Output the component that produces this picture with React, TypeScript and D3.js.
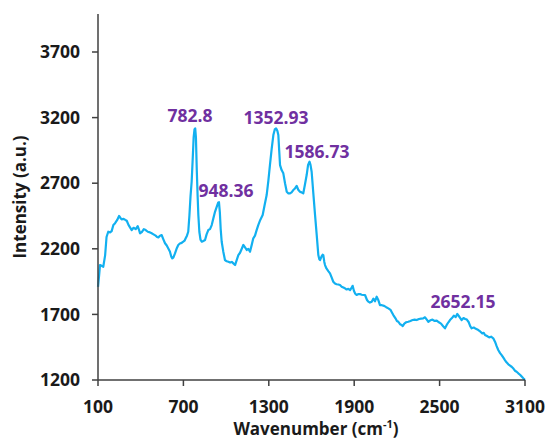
import React from "react";
import * as d3 from "d3";

const wavenumbers: number[] = [
  100, 108, 114, 125, 137, 150, 160, 172, 185, 196, 208, 220, 235, 248, 258, 266, 280, 292, 302, 315,
  327, 337, 350, 365, 379, 388, 395, 410, 422, 435, 450, 465, 477, 490, 505, 515, 524, 536, 547, 560,
  571, 583, 594, 605, 615, 622, 630, 641, 652, 664, 675, 688, 699, 708, 716, 725, 734, 742, 750, 758,
  766, 772, 778, 783, 788, 794, 800, 805, 812, 820, 829, 840, 852, 863, 875, 887, 899, 910, 922, 934,
  945, 950, 956, 962, 969, 980, 992, 1004, 1016, 1028, 1040, 1051, 1063, 1075, 1086, 1098, 1110, 1121, 1133, 1145,
  1156, 1168, 1180, 1191, 1203, 1214, 1226, 1240, 1257, 1270, 1285, 1297, 1308, 1320, 1332, 1342, 1351, 1360, 1367, 1373,
  1379, 1390, 1402, 1414, 1426, 1438, 1449, 1460, 1472, 1484, 1496, 1507, 1519, 1530, 1542, 1554, 1566, 1576, 1586, 1593,
  1601, 1613, 1625, 1637, 1648, 1655, 1660, 1670, 1678, 1683, 1690, 1695, 1705, 1718, 1730, 1742, 1753, 1765, 1776, 1788,
  1800, 1812, 1824, 1835, 1847, 1859, 1871, 1880, 1889, 1898, 1906, 1917, 1930, 1941, 1952, 1964, 1976, 1990, 1999, 2010,
  2023, 2035, 2046, 2058, 2069, 2081, 2095, 2110, 2125, 2140, 2155, 2165, 2175, 2190, 2200, 2210, 2222, 2233, 2241, 2252,
  2265, 2280, 2295, 2310, 2325, 2339, 2355, 2370, 2385, 2397, 2410, 2421, 2435, 2450, 2465, 2480, 2495, 2510, 2525, 2538,
  2550, 2562, 2573, 2585, 2600, 2613, 2624, 2640, 2655, 2668, 2680, 2690, 2705, 2715, 2725, 2740, 2755, 2772, 2785, 2800,
  2810, 2819, 2833, 2848, 2862, 2877, 2890, 2900, 2912, 2925, 2936, 2948, 2959, 2970, 2983, 2995, 3006, 3020, 3030, 3041,
  3053, 3065, 3075, 3088, 3100,
];

const intensities: number[] = [
  1910, 2000, 2076, 2070, 2063, 2150, 2290, 2330, 2325, 2335, 2381, 2395, 2420, 2450, 2435, 2424, 2428, 2420, 2414, 2380,
  2360, 2343, 2360, 2350, 2373, 2345, 2318, 2330, 2350, 2343, 2330, 2325, 2318, 2310, 2300, 2290, 2287, 2300, 2305, 2270,
  2242, 2225, 2203, 2180, 2140, 2127, 2135, 2165, 2200, 2229, 2240, 2245, 2254, 2262, 2280, 2300, 2330, 2450, 2600, 2711,
  2900, 3050, 3110, 3118, 3050, 2800, 2600, 2457, 2330, 2270, 2254, 2260, 2267, 2310, 2343, 2350, 2381, 2430, 2482, 2520,
  2553, 2555, 2480, 2350, 2254, 2180, 2114, 2105, 2101, 2095, 2100, 2089, 2076, 2115, 2152, 2170, 2200, 2229, 2210, 2191,
  2200, 2178, 2230, 2280, 2300, 2340, 2381, 2420, 2457, 2530, 2610, 2720, 2838, 2960, 3067, 3110, 3118, 3100, 3067, 2950,
  2838, 2800, 2775, 2700, 2635, 2622, 2622, 2630, 2648, 2660, 2680, 2650, 2635, 2630, 2622, 2690, 2762, 2840, 2864, 2840,
  2787, 2620, 2457, 2300, 2152, 2120, 2114, 2140, 2155, 2152, 2100, 2076, 2050, 2030, 2013, 1980, 1949, 1935, 1930, 1928,
  1924, 1911, 1905, 1899, 1890, 1895, 1886, 1900, 1918, 1880, 1860, 1848, 1855, 1855, 1850, 1848, 1848, 1810, 1797, 1790,
  1797, 1820, 1800, 1835, 1810, 1771, 1770, 1765, 1755, 1746, 1735, 1715, 1695, 1670, 1650, 1644, 1625, 1619, 1611, 1630,
  1640, 1644, 1650, 1657, 1660, 1657, 1665, 1668, 1670, 1678, 1660, 1644, 1655, 1660, 1650, 1652, 1640, 1630, 1610, 1594,
  1620, 1640, 1657, 1670, 1690, 1680, 1703, 1680, 1657, 1672, 1665, 1662, 1640, 1610, 1594, 1600, 1590, 1581, 1570, 1555,
  1560, 1543, 1535, 1525, 1530, 1518, 1490, 1460, 1429, 1405, 1390, 1370, 1352, 1335, 1320, 1310, 1301, 1285, 1270, 1263,
  1251, 1240, 1228, 1213, 1200,
];

const xTicks: number[] = [100, 700, 1300, 1900, 2500, 3100];
const yTicks: number[] = [1200, 1700, 2200, 2700, 3200, 3700];

const peakLabels: string[] = ["782.8", "948.36", "1352.93", "1586.73", "2652.15"];
const peakX: number[] = [746, 1000, 1351, 1639, 2664];
const peakLabelY: number[] = [3170, 2595, 3151, 2892, 1749];

const W = 551;
const H = 439;
const FONT = "'Open Sans', 'DejaVu Sans', sans-serif";
const AXIS = "#404040";
const LINE = "#12B0F0";
const PURPLE = "#7030A0";

export default function App() {
  const x = d3.scaleLinear().domain([100, 3100]).range([98, 525]);
  const y = d3.scaleLinear().domain([1200, 3700]).range([380, 52]);
  const yTop = y(3990);

  const pts: [number, number][] = wavenumbers.map((w, i) => [w, intensities[i]]);
  const line = d3
    .line<[number, number]>()
    .x((d) => x(d[0]))
    .y((d) => y(d[1]));

  return (
    <svg
      width={W}
      height={H}
      style={{ position: "absolute", left: 0, top: 0, background: "#fff" }}
      fontFamily={FONT}
    >
      <rect x={0} y={0} width={W} height={H} fill="#fff" />
      {/* curve */}
      <path d={line(pts) || ""} fill="none" stroke={LINE} strokeWidth={2.2} strokeLinejoin="round" />
      {/* axes */}
      <line x1={x(100)} x2={x(100)} y1={yTop} y2={y(1200)} stroke={AXIS} strokeWidth={1.5} />
      <line x1={x(100)} x2={x(3100)} y1={y(1200)} y2={y(1200)} stroke={AXIS} strokeWidth={1.5} />
      {yTicks.map((t) => (
        <g key={"y" + t}>
          <line x1={x(100) - 6} x2={x(100)} y1={y(t)} y2={y(t)} stroke={AXIS} strokeWidth={1.5} />
          <text
            x={80}
            y={y(t)}
            dy="0.35em"
            textAnchor="end"
            fontSize={17.5}
            fontWeight="bold"
            fill="#1a1a1a"
          >
            {t}
          </text>
        </g>
      ))}
      {xTicks.map((t) => (
        <g key={"x" + t}>
          <line x1={x(t)} x2={x(t)} y1={y(1200)} y2={y(1200) + 6} stroke={AXIS} strokeWidth={1.5} />
          <text
            x={x(t)}
            y={413}
            textAnchor="middle"
            fontSize={17.5}
            fontWeight="bold"
            fill="#1a1a1a"
          >
            {t}
          </text>
        </g>
      ))}
      {/* axis titles */}
      <text
        transform={`translate(26, ${(yTop + y(1200)) / 2}) rotate(-90)`}
        textAnchor="middle"
        fontSize={17}
        fontWeight="bold"
        fill="#1a1a1a"
      >
        Intensity (a.u.)
      </text>
      <text x={316} y={435} textAnchor="middle" fontSize={17} fontWeight="bold" fill="#1a1a1a">
        Wavenumber (cm
        <tspan fontSize={11} dy={-7}>
          -1
        </tspan>
        <tspan dy={7}>)</tspan>
      </text>
      {/* peak labels */}
      {peakLabels.map((p, i) => (
        <text
          key={p}
          x={x(peakX[i])}
          y={y(peakLabelY[i])}
          textAnchor="middle"
          fontSize={17.5}
          fontWeight="bold"
          fill={PURPLE}
        >
          {p}
        </text>
      ))}
    </svg>
  );
}
